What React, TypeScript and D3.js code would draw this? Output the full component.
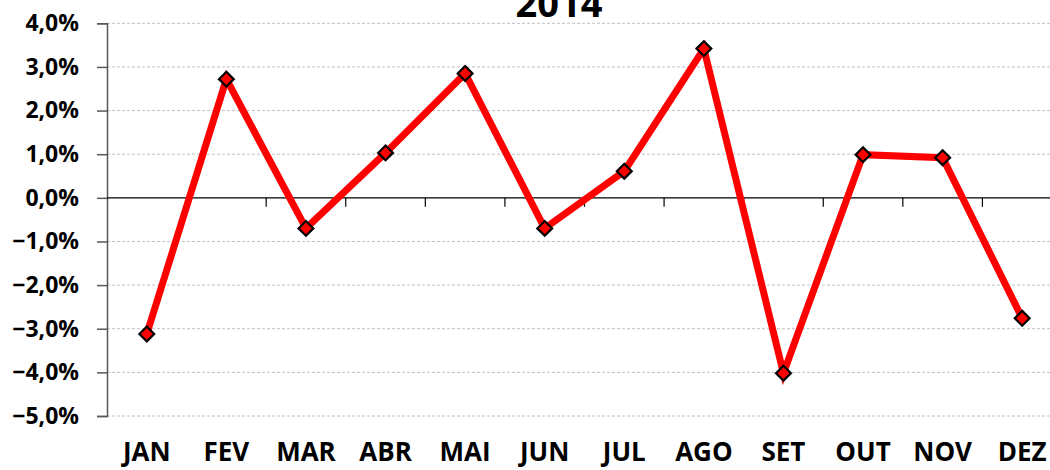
import React, { useEffect, useRef } from "react";
import * as d3 from "d3";

const months = ["JAN", "FEV", "MAR", "ABR", "MAI", "JUN", "JUL", "AGO", "SET", "OUT", "NOV", "DEZ"];
const values = [-3.12, 2.72, -0.7, 1.03, 2.85, -0.7, 0.61, 3.42, -4.02, 0.99, 0.92, -2.76];
const yTicks = [4, 3, 2, 1, 0, -1, -2, -3, -4, -5];
const title = "2014";

const W = 1050;
const H = 470;
const FONT = "'Open Sans', 'DejaVu Sans', sans-serif";

export default function App() {
  const ref = useRef<SVGSVGElement>(null);

  useEffect(() => {
    const svg = d3.select(ref.current);
    svg.selectAll("*").remove();

    const left = 107;
    const right = 1062;
    const x = d3.scaleBand<string>().domain(months).range([left, right]).padding(0);
    const y = d3.scaleLinear().domain([-5, 4]).range([416, 23.3]);

    // gridlines
    svg
      .append("g")
      .selectAll("line")
      .data(yTicks.filter((t) => t !== 0))
      .join("line")
      .attr("x1", left)
      .attr("x2", right)
      .attr("y1", (d) => y(d))
      .attr("y2", (d) => y(d))
      .attr("stroke", "#c0c0c0")
      .attr("stroke-width", 1)
      .attr("stroke-dasharray", "3,2");

    // y axis
    const yAxis = d3
      .axisLeft(y)
      .tickValues(yTicks)
      .tickSize(10)
      .tickPadding(18)
      .tickFormat((d) => d3.format(".1f")(d as number).replace(".", ",") + "%");
    const gy = svg.append("g").attr("transform", `translate(${left},0)`).call(yAxis);
    gy.select(".domain").attr("stroke", "#595959").attr("stroke-width", 1.5);
    gy.selectAll(".tick line").attr("stroke", "#595959").attr("stroke-width", 1.5);
    gy.selectAll(".tick text")
      .attr("font-family", FONT)
      .attr("font-weight", 700)
      .attr("font-size", 23)
      .attr("fill", "#000");

    // zero line with category ticks
    svg
      .append("line")
      .attr("x1", left)
      .attr("x2", right)
      .attr("y1", y(0))
      .attr("y2", y(0))
      .attr("stroke", "#000")
      .attr("stroke-width", 1.2);
    svg
      .append("g")
      .selectAll("line")
      .data(months.slice(1))
      .join("line")
      .attr("x1", (d) => x(d)!)
      .attr("x2", (d) => x(d)!)
      .attr("y1", y(0))
      .attr("y2", y(0) + 9)
      .attr("stroke", "#000")
      .attr("stroke-width", 1.2);

    // x labels
    svg
      .append("g")
      .selectAll("text")
      .data(months)
      .join("text")
      .attr("x", (d) => x(d)! + x.bandwidth() / 2)
      .attr("y", 461)
      .attr("text-anchor", "middle")
      .attr("font-family", FONT)
      .attr("font-weight", 700)
      .attr("font-size", 26)
      .attr("fill", "#000")
      .text((d) => d);

    // line
    const line = d3
      .line<number>()
      .x((_, i) => x(months[i])! + x.bandwidth() / 2)
      .y((d) => y(d));
    svg
      .append("path")
      .datum(values)
      .attr("d", line)
      .attr("fill", "none")
      .attr("stroke", "#ff0000")
      .attr("stroke-width", 7)
      .attr("stroke-linejoin", "miter");

    // markers
    const diamond = d3.symbol().type(d3.symbolDiamond2).size(140);
    svg
      .append("g")
      .selectAll("path")
      .data(values)
      .join("path")
      .attr("d", diamond)
      .attr("transform", (d, i) => `translate(${x(months[i])! + x.bandwidth() / 2},${y(d)})`)
      .attr("fill", "#ff0000")
      .attr("stroke", "#000")
      .attr("stroke-width", 2.2);

    // title
    svg
      .append("text")
      .attr("x", 559)
      .attr("y", 17)
      .attr("text-anchor", "middle")
      .attr("font-family", FONT)
      .attr("font-weight", 700)
      .attr("font-size", 38)
      .attr("fill", "#000")
      .text(title);
  }, []);

  return (
    <svg
      ref={ref}
      width={W}
      height={H}
      style={{ position: "absolute", left: 0, top: 0, background: "#fff", overflow: "hidden" }}
    />
  );
}
